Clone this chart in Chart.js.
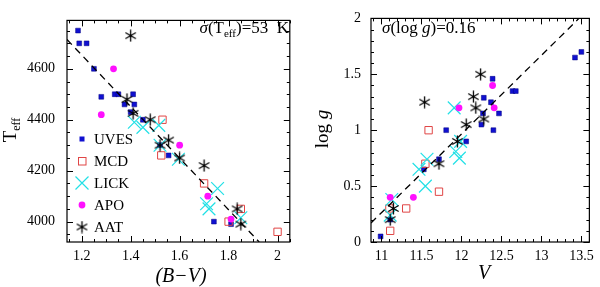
<!DOCTYPE html>
<html>
<head>
<meta charset="utf-8">
<script src="https://cdn.jsdelivr.net/npm/chart.js@4/dist/chart.umd.min.js"></script>
<style>
  html, body { margin: 0; padding: 0; background: #fff; }
  #wrap { position: relative; width: 600px; height: 287px; }
  canvas { position: absolute; top: 0; }
  #left { left: 0; }
  #right { left: 300px; }
</style>
</head>
<body>
<div id="wrap">
  <canvas id="left" width="300" height="287"></canvas>
  <canvas id="right" width="300" height="287"></canvas>
</div>
<script>
// ---- left panel: Teff vs (B-V) ----
const bvTicks = [1.2, 1.4, 1.6, 1.8, 2];
const teffTicks = [4000, 4200, 4400, 4600];

const uvesBV   = [1.185, 1.19, 1.22, 1.25, 1.28, 1.335, 1.35, 1.375, 1.41, 1.415, 1.40, 1.45, 1.52, 1.555, 1.74, 1.81];
const uvesTeff = [4750, 4700, 4700, 4600, 4490, 4500, 4500, 4460, 4500, 4460, 4430, 4400, 4300, 4260, 4000, 3990];
const mcdBV    = [1.53, 1.525, 1.70, 1.80, 1.85, 2.0];
const mcdTeff  = [4400, 4260, 4150, 4000, 4050, 3960];
const lickBV   = [1.415, 1.45, 1.515, 1.52, 1.595, 1.755, 1.71, 1.72, 1.85];
const lickTeff = [4390, 4370, 4378, 4300, 4245, 4130, 4070, 4050, 4015];
const apoBV    = [1.33, 1.28, 1.60, 1.715, 1.81];
const apoTeff  = [4600, 4420, 4300, 4100, 4010];
const aatBV    = [1.40, 1.385, 1.41, 1.48, 1.52, 1.555, 1.60, 1.70, 1.835, 1.85];
const aatTeff  = [4730, 4480, 4425, 4400, 4300, 4320, 4250, 4220, 4050, 3990];
const fitBV    = [1.14, 1.925];
const fitTeff  = [4715, 3920];

// ---- right panel: log g vs V ----
const vTicks = [11, 11.5, 12, 12.5, 13, 13.5];
const loggTicks = [0, 0.5, 1, 1.5, 2];

const uvesV    = [12.39, 12.64, 12.68, 12.28, 12.37, 12.47, 12.27, 12.25, 12.40, 11.81, 12.06, 13.42, 13.50, 11.72, 11.53, 11.11, 10.99];
const uvesLogg = [1.46, 1.35, 1.35, 1.29, 1.25, 1.15, 1.15, 1.05, 1.00, 1.00, 0.90, 1.65, 1.70, 0.74, 0.65, 0.20, 0.05];
const mcdV     = [11.59, 11.55, 11.72, 11.31, 11.10, 11.11];
const mcdLogg  = [1.00, 0.70, 0.45, 0.30, 0.30, 0.10];
const lickV    = [11.91, 11.99, 11.93, 11.975, 11.57, 11.47, 11.55, 11.13, 11.11];
const lickLogg = [1.20, 0.90, 0.81, 0.75, 0.74, 0.65, 0.50, 0.38, 0.24];
const apoV     = [12.39, 11.97, 12.41, 11.40, 11.11];
const apoLogg  = [1.40, 1.20, 1.20, 0.40, 0.40];
const aatV     = [12.24, 12.15, 11.54, 12.18, 12.28, 12.06, 11.95, 11.72, 11.15, 11.11];
const aatLogg  = [1.50, 1.30, 1.25, 1.20, 1.10, 1.05, 0.90, 0.70, 0.30, 0.20];
const fitV     = [10.87, 13.47];
const fitLogg  = [0.17, 2.0];

const serif = "'Liberation Serif', 'Times New Roman', serif";
const colors = { uves: '#1010d0', mcd: '#e04545', lick: '#22e0e6', apo: '#ff10ff', aat: '#000000' };

// asterisk marker (vertical bar + two slanted bars)
function makeAsterisk(size) {
    const c = document.createElement('canvas');
    c.width = size; c.height = size;
    const g = c.getContext('2d');
    const m = size / 2, r = size / 2 - 0.5;
    g.strokeStyle = '#000';
    g.lineWidth = 1.3;
    g.beginPath();
    [90, 30, -30].forEach(a => {
        const t = a * Math.PI / 180;
        g.moveTo(m - r * Math.cos(t), m - r * Math.sin(t));
        g.lineTo(m + r * Math.cos(t), m + r * Math.sin(t));
    });
    g.stroke();
    return c;
}
const asterisk = makeAsterisk(13);

function pts(xs, ys) {
    return xs.map((x, i) => ({ x: x, y: ys[i] }));
}

function scatterSets(d) {
    return [
        { type: 'line', data: pts(d.fitX, d.fitY), borderColor: '#000', borderWidth: 1.3,
          borderDash: [7, 5], pointRadius: 0, fill: false },
        { data: pts(d.aatX, d.aatY), pointStyle: asterisk, pointRadius: 7 },
        { data: pts(d.apoX, d.apoY), pointStyle: 'circle', pointRadius: 3.4,
          backgroundColor: colors.apo, borderColor: colors.apo, borderWidth: 0 },
        { data: pts(d.lickX, d.lickY), pointStyle: 'crossRot', pointRadius: 9,
          borderColor: colors.lick, borderWidth: 1.2 },
        { data: pts(d.mcdX, d.mcdY), pointStyle: 'rect', pointRadius: 5.2,
          backgroundColor: 'rgba(0,0,0,0)', borderColor: colors.mcd, borderWidth: 1 },
        { data: pts(d.uvesX, d.uvesY), pointStyle: 'rect', pointRadius: 3.4,
          backgroundColor: colors.uves, borderColor: '#000080', borderWidth: 0.5 }
    ];
}

// inward major/minor ticks on all four sides plus the box
const framePlugin = {
    id: 'frame',
    afterDraw(chart, args, opts) {
        const { ctx, chartArea: a, scales: { x, y } } = chart;
        ctx.save();
        ctx.strokeStyle = '#000';
        ctx.lineWidth = 1;
        ctx.beginPath();
        const minorX = [], minorY = [];
        for (let v = Math.ceil(x.min / opts.xMinor - 1e-6) * opts.xMinor; v <= x.max + 1e-9; v += opts.xMinor) minorX.push(v);
        for (let v = Math.ceil(y.min / opts.yMinor - 1e-6) * opts.yMinor; v <= y.max + 1e-9; v += opts.yMinor) minorY.push(v);
        const tickX = (v, len) => {
            const px = Math.round(x.getPixelForValue(v)) + 0.5;
            ctx.moveTo(px, a.bottom); ctx.lineTo(px, a.bottom - len);
            ctx.moveTo(px, a.top); ctx.lineTo(px, a.top + len);
        };
        const tickY = (v, len) => {
            const py = Math.round(y.getPixelForValue(v)) + 0.5;
            ctx.moveTo(a.left, py); ctx.lineTo(a.left + len, py);
            ctx.moveTo(a.right, py); ctx.lineTo(a.right - len, py);
        };
        minorX.forEach(v => tickX(v, 3));
        minorY.forEach(v => tickY(v, 3));
        opts.xMajor.forEach(v => tickX(v, 6));
        opts.yMajor.forEach(v => tickY(v, 6));
        ctx.stroke();
        ctx.lineWidth = 1.2;
        ctx.strokeRect(a.left, a.top, a.right - a.left, a.bottom - a.top);
        ctx.restore();
    }
};

function drawRuns(ctx, x, y, runs) {
    // runs: [text, font, dy]
    runs.forEach(r => {
        ctx.font = r[1];
        ctx.fillText(r[0], x, y + (r[2] || 0));
        x += ctx.measureText(r[0]).width;
    });
    return x;
}
function runsWidth(ctx, runs) {
    let w = 0;
    runs.forEach(r => { ctx.font = r[1]; w += ctx.measureText(r[0]).width; });
    return w;
}

const big = '17px ' + serif, bigIt = 'italic 17px ' + serif, sub = '11px ' + serif;

const leftText = {
    id: 'leftText',
    afterDraw(chart) {
        const ctx = chart.ctx;
        ctx.save();
        ctx.fillStyle = '#000';
        ctx.textBaseline = 'alphabetic';
        // annotation, right aligned
        const ann = [['σ', bigIt], ['(T', big], ['eff', sub, 4], [')=53  K', big]];
        drawRuns(ctx, 289 - runsWidth(ctx, ann), 33, ann);
        // x title
        ctx.font = 'italic 20px ' + serif;
        ctx.textAlign = 'center';
        ctx.fillText('(B\u2212V)', 181, 282);
        ctx.textAlign = 'left';
        // y title
        const yt = [['T', '19px ' + serif], ['eff', '12px ' + serif, 4]];
        ctx.translate(16, 130);
        ctx.rotate(-Math.PI / 2);
        drawRuns(ctx, -runsWidth(ctx, yt) / 2, 0, yt);
        ctx.restore();

        // legend
        ctx.save();
        const names = ['UVES', 'MCD', 'LICK', 'APO', 'AAT'];
        const rows = [139, 161, 183, 205, 227];
        const mx = 82;
        ctx.font = '15px ' + serif;
        ctx.textBaseline = 'middle';
        ctx.fillStyle = '#000';
        names.forEach((n, i) => {
            const yy = rows[i];
            ctx.fillText(n, 94, yy + 1);
            if (n === 'UVES') { ctx.fillStyle = colors.uves; ctx.fillRect(mx - 2.5, yy - 2.5, 5, 5); ctx.fillStyle = '#000'; }
            if (n === 'MCD') { ctx.strokeStyle = colors.mcd; ctx.lineWidth = 1; ctx.strokeRect(mx - 3.5, yy - 3.5, 7.5, 7.5); }
            if (n === 'LICK') {
                ctx.strokeStyle = colors.lick; ctx.lineWidth = 1.2; ctx.beginPath();
                ctx.moveTo(mx - 6.5, yy - 6.5); ctx.lineTo(mx + 6.5, yy + 6.5);
                ctx.moveTo(mx - 6.5, yy + 6.5); ctx.lineTo(mx + 6.5, yy - 6.5); ctx.stroke();
            }
            if (n === 'APO') { ctx.fillStyle = colors.apo; ctx.beginPath(); ctx.arc(mx, yy, 3.4, 0, Math.PI * 2); ctx.fill(); ctx.fillStyle = '#000'; }
            if (n === 'AAT') { ctx.drawImage(asterisk, mx - 6.5, yy - 6.5); }
        });
        ctx.restore();
    }
};

const rightText = {
    id: 'rightText',
    afterDraw(chart) {
        const ctx = chart.ctx;
        ctx.save();
        ctx.fillStyle = '#000';
        ctx.textBaseline = 'alphabetic';
        drawRuns(ctx, 82, 33, [['σ', bigIt], ['(log ', big], ['g', bigIt], [')=0.16', big]]);
        ctx.font = 'italic 20px ' + serif;
        ctx.textAlign = 'center';
        ctx.fillText('V', 184, 279);
        ctx.textAlign = 'left';
        const yt = [['log ', '19px ' + serif], ['g', 'italic 19px ' + serif]];
        ctx.translate(28, 129);
        ctx.rotate(-Math.PI / 2);
        drawRuns(ctx, -runsWidth(ctx, yt) / 2, 0, yt);
        ctx.restore();
    }
};

function makeChart(id, d, sc, frame, textPlugin) {
    return new Chart(document.getElementById(id), {
        type: 'scatter',
        data: { datasets: scatterSets(d) },
        options: {
            responsive: false,
            animation: false,
            devicePixelRatio: 1,
            layout: { padding: { top: 7, right: 4, left: 0, bottom: 0 } },
            plugins: { legend: { display: false }, tooltip: { enabled: false }, frame: frame },
            scales: {
                x: {
                    type: 'linear', min: sc.xMin, max: sc.xMax,
                    grid: { display: false, drawTicks: false }, border: { display: false },
                    afterBuildTicks: s => { s.ticks = sc.xTicks.map(v => ({ value: v })); },
                    afterFit: s => { s.height = 45; },
                    ticks: { color: '#000', padding: 6, maxRotation: 0, font: { family: serif, size: 14 },
                             callback: v => String(v) }
                },
                y: {
                    type: 'linear', min: sc.yMin, max: sc.yMax,
                    grid: { display: false, drawTicks: false }, border: { display: false },
                    afterBuildTicks: s => { s.ticks = sc.yTicks.map(v => ({ value: v })); },
                    afterFit: s => { s.width = sc.yWidth; },
                    ticks: { color: '#000', padding: sc.yPad, font: { family: serif, size: 14 },
                             callback: v => String(v) }
                }
            }
        },
        plugins: [framePlugin, textPlugin]
    });
}

makeChart('left',
    { uvesX: uvesBV, uvesY: uvesTeff, mcdX: mcdBV, mcdY: mcdTeff, lickX: lickBV, lickY: lickTeff,
      apoX: apoBV, apoY: apoTeff, aatX: aatBV, aatY: aatTeff, fitX: fitBV, fitY: fitTeff },
    { xMin: 1.14, xMax: 2.05, yMin: 3920, yMax: 4790, xTicks: bvTicks, yTicks: teffTicks, yWidth: 67, yPad: 12 },
    { xMinor: 0.05, yMinor: 50, xMajor: bvTicks, yMajor: teffTicks },
    leftText);

makeChart('right',
    { uvesX: uvesV, uvesY: uvesLogg, mcdX: mcdV, mcdY: mcdLogg, lickX: lickV, lickY: lickLogg,
      apoX: apoV, apoY: apoLogg, aatX: aatV, aatY: aatLogg, fitX: fitV, fitY: fitLogg },
    { xMin: 10.87, xMax: 13.6, yMin: 0, yMax: 2, xTicks: vTicks, yTicks: loggTicks, yWidth: 71, yPad: 10 },
    { xMinor: 0.1, yMinor: 0.1, xMajor: vTicks, yMajor: loggTicks },
    rightText);
</script>
</body>
</html>
